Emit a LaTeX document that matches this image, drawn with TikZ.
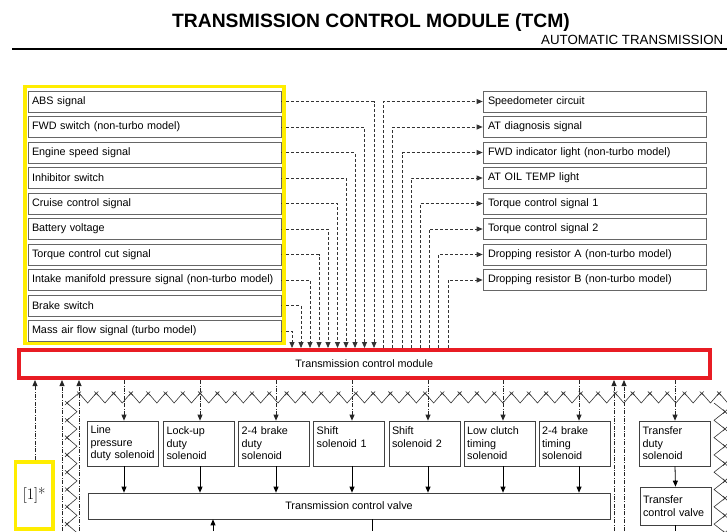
\documentclass[tikz,border=0pt]{standalone}
\usepackage{fontspec}
\newfontfamily\arialfont{Liberation Sans}
\usetikzlibrary{arrows.meta}
\definecolor{tcmred}{RGB}{232,28,36}
\definecolor{markyellow}{RGB}{255,237,0}

\begin{document}
\begin{tikzpicture}[x=1pt, y=-1pt,
    txt/.style={font=\arialfont\fontsize{10.8}{12.5}\selectfont},
    inbox/.style={txt, draw=black!60, line width=0.7pt, minimum width=253pt, minimum height=21pt, inner xsep=4pt, inner ysep=0pt, text width=245pt, align=left},
    outbox/.style={txt, draw=black!60, line width=0.7pt, minimum width=223pt, minimum height=21pt, inner xsep=5pt, inner ysep=0pt, text width=213pt, align=left},
    solbox/.style={txt, draw=black!75, line width=0.7pt, minimum width=71pt, minimum height=45pt, inner xsep=3pt, inner ysep=0pt, text width=65pt, align=left},
    sig/.style={draw=black!80, line width=0.8pt, dash pattern=on 3pt off 2pt},
    ctl/.style={draw=black!85, line width=0.8pt, dash pattern=on 4pt off 1.5pt on 0.8pt off 1.5pt},
    ahead/.style={-{Triangle[length=6pt,width=5pt]}},
    zz/.style={draw=black!80, line width=0.6pt}
]
\useasboundingbox (0,0) rectangle (727,531);
\clip (0,0) rectangle (727,531);

% heading
\node[font=\arialfont\bfseries\fontsize{19.3}{22}\selectfont, anchor=base] (title) at (371,27) {TRANSMISSION CONTROL MODULE (TCM)};
\node[font=\arialfont\fontsize{13.3}{15}\selectfont, anchor=base west, inner sep=0pt] (sect) at (541,44) {AUTOMATIC TRANSMISSION};
\draw[line width=2.4pt] (12,49) -- (727,49);

% input signals
\node[inbox] (in1)  at (154.5,101.5) {ABS signal};
\node[inbox] (in2)  at (154.5,127)   {FWD switch (non-turbo model)};
\node[inbox] (in3)  at (154.5,152.5) {Engine speed signal};
\node[inbox] (in4)  at (154.5,178)   {Inhibitor switch};
\node[inbox] (in5)  at (154.5,203.5) {Cruise control signal};
\node[inbox] (in6)  at (154.5,229)   {Battery voltage};
\node[inbox] (in7)  at (154.5,254.5) {Torque control cut signal};
\node[inbox] (in8)  at (154.5,280)   {Intake manifold pressure signal (non-turbo model)};
\node[inbox] (in9)  at (154.5,305.5) {Brake switch};
\node[inbox] (in10) at (154.5,331)   {Mass air flow signal (turbo model)};

% output signals
\node[outbox] (out1) at (594.5,101.5) {Speedometer circuit};
\node[outbox] (out2) at (594.5,127)   {AT diagnosis signal};
\node[outbox] (out3) at (594.5,152.5) {FWD indicator light (non-turbo model)};
\node[outbox] (out4) at (594.5,178)   {AT OIL TEMP light};
\node[outbox] (out5) at (594.5,203.5) {Torque control signal 1};
\node[outbox] (out6) at (594.5,229)   {Torque control signal 2};
\node[outbox] (out7) at (594.5,254.5) {Dropping resistor A (non-turbo model)};
\node[outbox] (out8) at (594.5,280)   {Dropping resistor B (non-turbo model)};

% module
\node[txt, draw=tcmred, line width=4pt, minimum width=691pt, minimum height=28pt] (tcm) at (364.3,364) {Transmission control module};

\foreach \i/\x in {1/374,2/364.5,3/355,4/346,5/337.5,6/328,7/319,8/310,9/301,10/292}
  \draw[sig, ahead] (in\i.east) -| (tcm.north -| \x,0);
\foreach \j/\x in {1/383,2/392.5,3/402,4/411,5/420,6/429,7/438.5,8/448}
  \draw[sig, ahead] (tcm.north -| \x,0) |- (out\j.west);

\draw[markyellow, line width=3.6pt] (25,86.5) rectangle (284,343.5);

% solenoids and valves
\node[solbox] (sol1) at (123,443.5)   {Line\\pressure\\duty solenoid};
\node[solbox] (sol2) at (199,443.5)   {Lock-up\\duty\\solenoid};
\node[solbox] (sol3) at (274.2,443.5) {2-4 brake\\duty\\solenoid};
\node[solbox] (sol4) at (349.2,443.5) {Shift\\solenoid 1\\\mbox{}};
\node[solbox] (sol5) at (424.5,443.5) {Shift\\solenoid 2\\\mbox{}};
\node[solbox] (sol6) at (499.7,443.5) {Low clutch\\timing\\solenoid};
\node[solbox] (sol7) at (574.5,443.5) {2-4 brake\\timing\\solenoid};
\node[solbox] (sol8) at (675,443.5)   {Transfer\\duty\\solenoid};

\node[txt, draw=black!75, line width=0.7pt, minimum width=522pt, minimum height=26pt] (tcv) at (349,506) {Transmission control valve};
\node[solbox, minimum height=38pt] (tfv) at (675.5,506) {Transfer\\control valve};

\foreach \s/\x in {1/124,2/200,3/276,4/352,5/428,6/503,7/579,8/675}
  \draw[ctl, ahead] (tcm.south -| \x,0) -- (sol\s.north -| \x,0);
\foreach \s/\x in {1/124,2/200,3/276,4/352,5/428,6/503,7/579}
  \draw[ahead, line width=0.8pt] (sol\s.south -| \x,0) -- (tcv.north -| \x,0);
\draw[ahead, line width=0.8pt] (sol8.south) -- (tfv.north);

% feedback lines
\node[font=\rmfamily\fontsize{16}{18}\selectfont, draw=markyellow, line width=3.6pt, minimum width=37.7pt, minimum height=67pt, inner sep=0pt] (note) at (34.2,495.5) {[1]*};
\coordinate (e1) at (62,531);
\coordinate (e2) at (79,531);
\coordinate (e3) at (614,531);
\coordinate (e4) at (624,531);
\coordinate (e5) at (213,531);
\coordinate (e6) at (372,531);
\coordinate (e7) at (675,531);
\draw[ctl, ahead] (note.north -| 35,0) -- (tcm.south -| 35,0);
\foreach \e in {1,...,4}
  \draw[ctl, ahead] (e\e) -- (tcm.south -| e\e);
\draw[ahead, line width=0.8pt] (e5) -- (tcv.south -| e5);
\draw[line width=0.8pt] (tcv.south -| e6) -- (e6);
\draw[line width=0.8pt] (tfv.south -| e7) -- (e7);

% housing boundary
\draw[zz] (79,393) \foreach \k in {0,...,37} { -- ({79+17.3*\k+8.65},403) -- ({79+17.3*(\k+1)},393) };
\foreach \k in {0,...,38}
  \draw[zz] ({79+17.3*\k-2},391.5) -- +(4,4) ({79+17.3*\k+2},391.5) -- +(-4,4);
\draw[zz] (79,393) \foreach \k in {0,...,7} { -- (67,{403+17.3*\k}) -- (77,{411.65+17.3*\k}) };
\foreach \k in {0,...,7}
  \draw[zz] (65,{401+17.3*\k}) -- +(4,4) (69,{401+17.3*\k}) -- +(-4,4);
\draw[zz] (714,403) \foreach \k in {0,...,7} { -- (725,{411.65+17.3*\k}) -- (714,{420.3+17.3*\k}) };
\foreach \k in {0,...,7}
  \draw[zz] (723,{409.65+17.3*\k}) -- +(4,4) (727,{409.65+17.3*\k}) -- +(-4,4);
\end{tikzpicture}
\end{document}
